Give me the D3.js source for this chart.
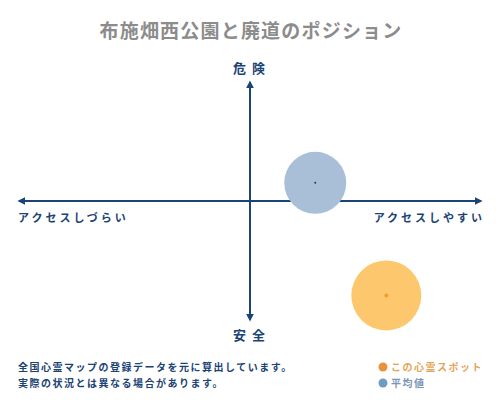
<html>
<head>
<meta charset="utf-8">
<style>
	body { margin:0; padding:0; background:#fff; }
	svg text { font-family: "Noto Sans CJK JP", "Noto Sans", sans-serif; }
</style>
</head>
<body>
<svg id="chart" width="500" height="400"></svg>
<script src="https://d3js.org/d3.v7.min.js"></script>
<script>
	// titoli e etichette
	var title = "布施畑西公園と廃道のポジション";
	var axisLabels = ["危険", "安全", "アクセスしづらい", "アクセスしやすい"];
	var notes = ["全国心霊マップの登録データを元に算出しています。", "実際の状況とは異なる場合があります。"];

	// punti: nome, accesso (x), pericolo (y), raggio
	var names = ["平均値", "この心霊スポット"];
	var access = [0.28, 0.585];
	var danger = [0.15, -0.78];
	var sizes = [31, 35];
	var fills = ["#a9bfd8", "#fdc86d"];
	var dots = ["#1a3d6b", "#f0a030"];
	var legendColors = ["#e8923a", "#6f9cc4"];
	var legendText = ["この心霊スポット", "平均値"];

	var navy = "#1b4373";
	var svg = d3.select("#chart");

	var x = d3.scaleLinear().domain([-1, 1]).range([17, 483]);
	var y = d3.scaleLinear().domain([-1, 1]).range([322, 80]);

	svg.append("text")
		.attr("x", 251).attr("y", 38)
		.attr("text-anchor", "middle")
		.attr("font-size", 19).attr("font-weight", "bold")
		.attr("letter-spacing", 1.2)
		.attr("fill", "#8c8c8c")
		.text(title);

	// punte delle frecce
	var defs = svg.append("defs");
	defs.append("marker")
		.attr("id", "arr")
		.attr("viewBox", "0 0 10 10")
		.attr("refX", 8).attr("refY", 5)
		.attr("markerWidth", 4).attr("markerHeight", 4)
		.attr("orient", "auto-start-reverse")
		.append("path")
		.attr("d", "M0,0 L10,5 L0,10 z")
		.attr("fill", navy);

	// assi
	svg.append("line")
		.attr("x1", x(-1) + 2).attr("x2", x(1) - 2)
		.attr("y1", y(0)).attr("y2", y(0))
		.attr("stroke", navy).attr("stroke-width", 2)
		.attr("marker-start", "url(#arr)").attr("marker-end", "url(#arr)");

	svg.append("line")
		.attr("x1", x(0)).attr("x2", x(0))
		.attr("y1", y(1) + 2).attr("y2", y(-1) - 2)
		.attr("stroke", navy).attr("stroke-width", 2)
		.attr("marker-start", "url(#arr)").attr("marker-end", "url(#arr)");

	svg.append("text")
		.attr("x", 252).attr("y", 73)
		.attr("text-anchor", "middle")
		.attr("font-size", 13).attr("font-weight", "bold")
		.attr("letter-spacing", 6)
		.attr("fill", navy).text(axisLabels[0]);

	svg.append("text")
		.attr("x", 252).attr("y", 340)
		.attr("text-anchor", "middle")
		.attr("font-size", 13).attr("font-weight", "bold")
		.attr("letter-spacing", 6)
		.attr("fill", navy).text(axisLabels[1]);

	svg.append("text")
		.attr("x", 18).attr("y", 222)
		.attr("font-size", 11).attr("font-weight", "bold")
		.attr("letter-spacing", 3)
		.attr("fill", navy).text(axisLabels[2]);

	svg.append("text")
		.attr("x", 485).attr("y", 222)
		.attr("text-anchor", "end")
		.attr("font-size", 11).attr("font-weight", "bold")
		.attr("letter-spacing", 3)
		.attr("fill", navy).text(axisLabels[3]);

	// cerchi
	var data = names.map(function(d, i) {
		return { name: d, ax: access[i], dg: danger[i], r: sizes[i], fill: fills[i], dot: dots[i] };
	});

	var g = svg.selectAll(".spot")
		.data(data)
		.enter()
		.append("g")
		.attr("class", "spot");

	g.append("circle")
		.attr("cx", function(d) { return x(d.ax); })
		.attr("cy", function(d) { return y(d.dg); })
		.attr("r", function(d) { return d.r; })
		.attr("fill", function(d) { return d.fill; });

	g.append("circle")
		.attr("cx", function(d) { return x(d.ax); })
		.attr("cy", function(d) { return y(d.dg); })
		.attr("r", function(d, i) { return i == 0 ? 1 : 2; })
		.attr("fill", function(d) { return d.dot; });

	// note
	svg.selectAll(".note")
		.data(notes)
		.enter()
		.append("text")
		.attr("class", "note")
		.attr("x", 18)
		.attr("y", function(d, i) { return 371 + i * 16; })
		.attr("font-size", 10).attr("font-weight", "bold")
		.attr("letter-spacing", 1.5)
		.attr("fill", navy)
		.text(function(d) { return d; });

	// legenda
	var leg = svg.selectAll(".leg")
		.data(legendText)
		.enter()
		.append("g")
		.attr("class", "leg")
		.attr("transform", function(d, i) { return "translate(383," + (367 + i * 16) + ")"; });

	leg.append("circle")
		.attr("r", 4.5)
		.attr("fill", function(d, i) { return legendColors[i]; });

	leg.append("text")
		.attr("x", 8).attr("y", 4)
		.attr("font-size", 10).attr("font-weight", "bold")
		.attr("letter-spacing", 1.5)
		.attr("fill", function(d, i) { return i == 0 ? "#e5a55a" : "#7a95b5"; })
		.text(function(d) { return d; });
</script>
</body>
</html>
